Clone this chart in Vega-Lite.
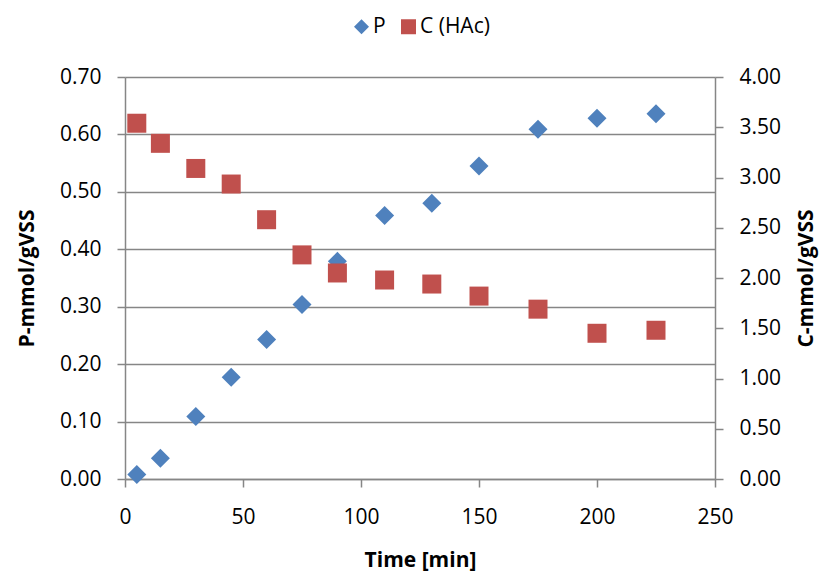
{
  "$schema": "https://vega.github.io/schema/vega-lite/v6.json",
  "width": 590,
  "height": 402,
  "autosize": "none",
  "padding": {"left": 125, "top": 77, "right": 115, "bottom": 101},
  "background": "white",
  "config": {
    "view": {"stroke": null},
    "font": "Open Sans",
    "axis": {
      "labelFont": "Open Sans",
      "labelFontSize": 21,
      "labelColor": "#000000",
      "titleFont": "Open Sans",
      "titleFontSize": 21,
      "titleFontWeight": "bold",
      "titleColor": "#000000",
      "domainColor": "#868686",
      "domainWidth": 1.5,
      "tickColor": "#868686",
      "tickWidth": 1.5,
      "tickSize": 8,
      "gridColor": "#868686",
      "gridWidth": 1.3
    },
    "legend": {
      "labelFont": "Open Sans",
      "labelFontSize": 21,
      "labelColor": "#000000"
    }
  },
  "data": {
    "values": [
      {"time": 5, "series": "P", "value": 0.008},
      {"time": 15, "series": "P", "value": 0.036},
      {"time": 30, "series": "P", "value": 0.109},
      {"time": 45, "series": "P", "value": 0.177},
      {"time": 60, "series": "P", "value": 0.243},
      {"time": 75, "series": "P", "value": 0.304},
      {"time": 90, "series": "P", "value": 0.379},
      {"time": 110, "series": "P", "value": 0.459},
      {"time": 130, "series": "P", "value": 0.48},
      {"time": 150, "series": "P", "value": 0.545},
      {"time": 175, "series": "P", "value": 0.609},
      {"time": 200, "series": "P", "value": 0.628},
      {"time": 225, "series": "P", "value": 0.636},
      {"time": 5, "series": "C (HAc)", "value": 3.54},
      {"time": 15, "series": "C (HAc)", "value": 3.34},
      {"time": 30, "series": "C (HAc)", "value": 3.09},
      {"time": 45, "series": "C (HAc)", "value": 2.935},
      {"time": 60, "series": "C (HAc)", "value": 2.58},
      {"time": 75, "series": "C (HAc)", "value": 2.23},
      {"time": 90, "series": "C (HAc)", "value": 2.05},
      {"time": 110, "series": "C (HAc)", "value": 1.98},
      {"time": 130, "series": "C (HAc)", "value": 1.94},
      {"time": 150, "series": "C (HAc)", "value": 1.82},
      {"time": 175, "series": "C (HAc)", "value": 1.69},
      {"time": 200, "series": "C (HAc)", "value": 1.45},
      {"time": 225, "series": "C (HAc)", "value": 1.48}
    ]
  },
  "encoding": {
    "x": {
      "field": "time",
      "type": "quantitative",
      "title": "Time [min]",
      "scale": {"domain": [0, 250], "nice": false},
      "axis": {"values": [0, 50, 100, 150, 200, 250], "grid": false, "labelPadding": 19, "titlePadding": 22, "labelFlush": false}
    },
    "color": {
      "field": "series",
      "type": "nominal",
      "scale": {"domain": ["P", "C (HAc)"], "range": ["#4F81BD", "#C0504D"]},
      "legend": {
        "title": null,
        "orient": "none",
        "direction": "horizontal",
        "legendX": 226,
        "legendY": -61,
        "symbolSize": 225,
        "symbolStrokeWidth": 0,
        "labelOffset": 1,
        "columnPadding": 12,
        "padding": 0
      }
    },
    "shape": {
      "field": "series",
      "type": "nominal",
      "scale": {"domain": ["P", "C (HAc)"], "range": ["diamond", "square"]},
      "legend": {
        "title": null,
        "orient": "none",
        "direction": "horizontal",
        "legendX": 226,
        "legendY": -61,
        "symbolSize": 225,
        "symbolStrokeWidth": 0,
        "labelOffset": 1,
        "columnPadding": 12,
        "padding": 0
      }
    }
  },
  "layer": [
    {
      "transform": [{"filter": "datum.series === 'P'"}],
      "mark": {"type": "point", "filled": true, "size": 361, "opacity": 1, "strokeWidth": 0},
      "encoding": {
        "y": {
          "field": "value",
          "type": "quantitative",
          "title": "P-mmol/gVSS",
          "scale": {"domain": [0, 0.7], "nice": false},
          "axis": {"orient": "left", "values": [0, 0.1, 0.2, 0.3, 0.4, 0.5, 0.6, 0.7], "format": ".2f", "grid": true, "labelPadding": 16, "titlePadding": 22}
        }
      }
    },
    {
      "transform": [{"filter": "datum.series === 'C (HAc)'"}],
      "mark": {"type": "point", "filled": true, "size": 361, "opacity": 1, "strokeWidth": 0},
      "encoding": {
        "y": {
          "field": "value",
          "type": "quantitative",
          "title": "C-mmol/gVSS",
          "scale": {"domain": [0, 4], "nice": false},
          "axis": {"orient": "right", "values": [0, 0.5, 1, 1.5, 2, 2.5, 3, 3.5, 4], "format": ".2f", "grid": false, "labelPadding": 16, "titlePadding": 15, "titleAngle": 270, "titleBaseline": "top"}
        }
      }
    }
  ],
  "resolve": {"scale": {"y": "independent"}}
}
